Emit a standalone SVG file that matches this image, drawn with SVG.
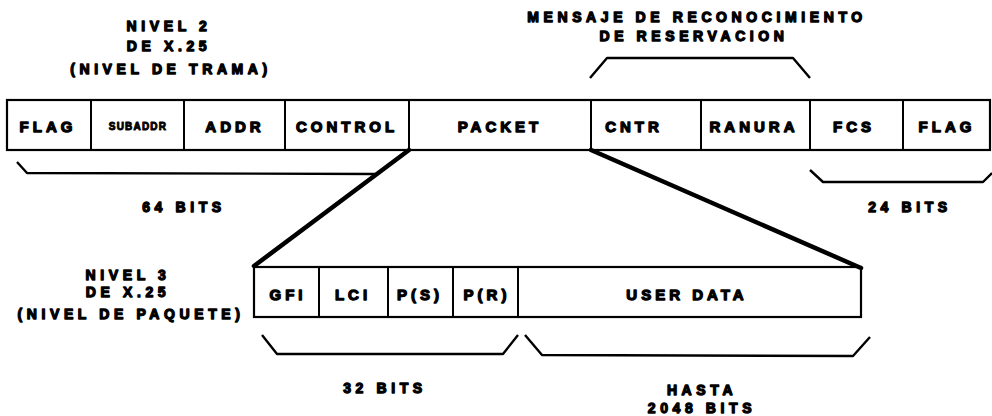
<svg xmlns="http://www.w3.org/2000/svg" width="992" height="416" viewBox="0 0 992 416">
<style>
text{font-family:"Liberation Sans",Arial,sans-serif;font-weight:bold;fill:#000;stroke:#000;stroke-width:1.3;stroke-linejoin:round;text-anchor:middle}
.lbl{font-size:15px;letter-spacing:4px}
.sm{font-size:10px;letter-spacing:1.2px;stroke-width:0.9}
.cap{font-size:14px;letter-spacing:4.6px}
.box{fill:#fff;stroke:#000;stroke-width:2.2}
.div{stroke:#000;stroke-width:2}
.br{fill:none;stroke:#000;stroke-width:2.4;stroke-linejoin:round}
.thick{fill:none;stroke:#000;stroke-width:4.5;stroke-linecap:round}
</style>
<g id="titles">
<text class="cap" x="169" y="31">NIVEL 2</text>
<text class="cap" x="169" y="51">DE X.25</text>
<text class="cap" x="171" y="74">(NIVEL DE TRAMA)</text>
<text class="cap" x="697" y="22">MENSAJE DE RECONOCIMIENTO</text>
<text class="cap" x="694" y="41">DE RESERVACION</text>
<text class="cap" x="128" y="280">NIVEL 3</text>
<text class="cap" x="128" y="297">DE X.25</text>
<text class="cap" x="131" y="319">(NIVEL DE PAQUETE)</text>
</g>
<g id="frame2">
<rect class="box" x="7" y="100" width="983" height="50"/>
<line class="div" x1="91" y1="100" x2="91" y2="150"/>
<line class="div" x1="184" y1="100" x2="184" y2="150"/>
<line class="div" x1="285" y1="100" x2="285" y2="150"/>
<line class="div" x1="409" y1="100" x2="409" y2="150"/>
<line class="div" x1="591" y1="100" x2="591" y2="150"/>
<line class="div" x1="701" y1="100" x2="701" y2="150"/>
<line class="div" x1="810" y1="100" x2="810" y2="150"/>
<line class="div" x1="903" y1="100" x2="903" y2="150"/>
<text class="lbl" x="48" y="132">FLAG</text>
<text class="sm" x="138" y="130">SUBADDR</text>
<text class="lbl" x="235" y="132">ADDR</text>
<text class="lbl" x="347" y="132">CONTROL</text>
<text class="lbl" x="500" y="132">PACKET</text>
<text class="lbl" x="634" y="132">CNTR</text>
<text class="lbl" x="754" y="132">RANURA</text>
<text class="lbl" x="854" y="132">FCS</text>
<text class="lbl" x="947" y="132">FLAG</text>
</g>
<g id="frame3">
<rect class="box" x="254" y="267" width="607" height="50"/>
<line class="div" x1="319" y1="267" x2="319" y2="317"/>
<line class="div" x1="388" y1="267" x2="388" y2="317"/>
<line class="div" x1="453" y1="267" x2="453" y2="317"/>
<line class="div" x1="518" y1="267" x2="518" y2="317"/>
<text class="lbl" x="288" y="300">GFI</text>
<text class="lbl" x="353" y="300">LCI</text>
<text class="lbl" x="420" y="300">P(S)</text>
<text class="lbl" x="487" y="300">P(R)</text>
<text class="lbl" x="687" y="300">USER DATA</text>
</g>
<g id="connectors">
<path class="thick" d="M409,150 L254,266"/>
<path class="thick" d="M591,150 L861,268"/>
<path class="br" d="M590,78 L607,58 L793,58 L810,78"/>
<path class="br" d="M17,162 L27,173 L375,174"/>
<path class="br" d="M810,170 L823,182 L983,182 L992,173"/>
<path class="br" d="M262,335 L277,354 L503,354 L518,335"/>
<path class="br" d="M525,335 L542,355 L853,356 L870,337"/>
</g>
<g id="bits">
<text class="cap" x="184" y="212">64 BITS</text>
<text class="cap" x="910" y="212">24 BITS</text>
<text class="cap" x="385" y="393">32 BITS</text>
<text class="cap" x="702" y="395">HASTA</text>
<text class="cap" x="702" y="413">2048 BITS</text>
</g>
</svg>
